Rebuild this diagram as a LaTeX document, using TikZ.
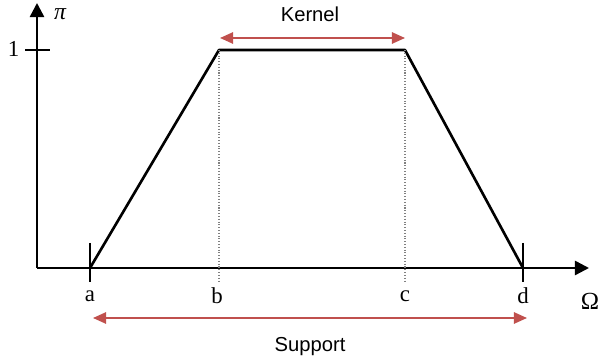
\documentclass[tikz,border=0pt]{standalone}
\usepackage{fontspec}
\setmainfont{Liberation Serif}
\setsansfont{Liberation Sans}
\usetikzlibrary{arrows.meta}
\definecolor{kernred}{RGB}{192,80,77}

\begin{document}
\begin{tikzpicture}[
    axis/.style={line width=1.4pt, -{Triangle[length=8pt,width=8pt]}},
    span/.style={line width=1pt, kernred, {Triangle[length=7.5pt,width=6.5pt]}-{Triangle[length=7.5pt,width=6.5pt]}},
    lbl/.style={font=\fontsize{13}{15}\selectfont},
    tag/.style={font=\sffamily\fontsize{11.5}{13}\selectfont}]
  \useasboundingbox (0,0) rectangle (12.04,7.28);
  % axes
  \coordinate (O) at (0.74,1.92);
  \coordinate (ytop) at (0.74,7.22);
  \coordinate (xend) at (11.78,1.92);
  \draw[axis] (O) -- (ytop);
  \draw[axis] (O) -- (xend);
  \node[inner sep=0pt, font=\itshape\fontsize{13.5}{15}\selectfont] (pi) at (1.2,7.0) {π};
  \node[lbl, font=\fontsize{14}{16}\selectfont] (omega) at (11.8,1.26) {Ω};
  % level 1
  \coordinate (one) at (0.74,6.28);
  \draw[line width=1pt] ([xshift=-0.24cm]one) -- ([xshift=0.26cm]one);
  \node[lbl] (onelbl) at (0.27,6.3) {1};
  % trapezoid
  \coordinate (a) at (1.8,1.92);
  \coordinate (b) at (4.38,6.28);
  \coordinate (c) at (8.1,6.28);
  \coordinate (d) at (10.46,1.92);
  \draw[line width=1.5pt, line join=round] (a) -- (b) -- (c) -- (d);
  \draw[line width=0.9pt] (1.8,2.42) -- (1.8,1.64);
  \draw[line width=0.9pt] (10.46,2.42) -- (10.46,1.64);
  \draw[gray, densely dotted, line width=0.6pt] (b) -- (4.38,1.64);
  \draw[gray, densely dotted, line width=0.6pt] (c) -- (8.1,1.64);
  \node[lbl] (albl) at (1.8,1.36) {a};
  \node[lbl] (blbl) at (4.34,1.36) {b};
  \node[lbl] (clbl) at (8.1,1.36) {c};
  \node[lbl] (dlbl) at (10.46,1.36) {d};
  % kernel and support
  \coordinate (k1) at (4.4,6.52);
  \coordinate (k2) at (8.1,6.52);
  \draw[span] (k1) -- (k2);
  \node[tag] (kernel) at (6.2,7.0) {Kernel};
  \coordinate (s1) at (1.86,0.92);
  \coordinate (s2) at (10.54,0.92);
  \draw[span] (s1) -- (s2);
  \node[tag] (support) at (6.2,0.34) {Support};
\end{tikzpicture}
\end{document}
